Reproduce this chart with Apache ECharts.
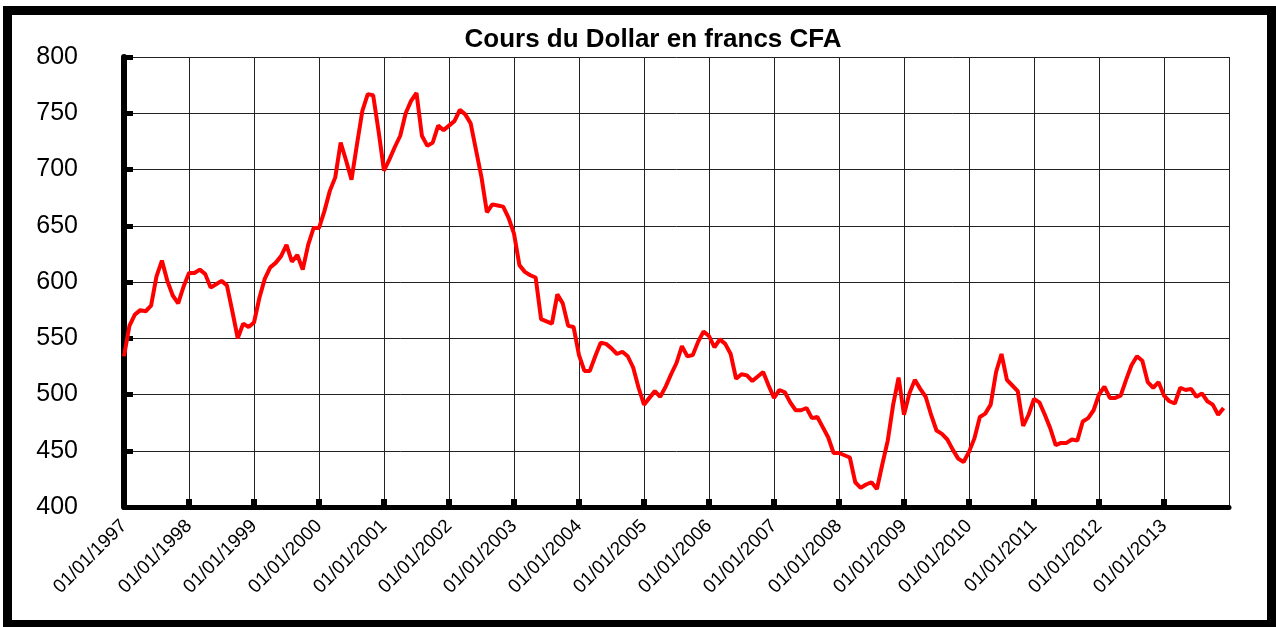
<!DOCTYPE html>
<html>
<head>
<meta charset="utf-8">
<title>Cours du Dollar en francs CFA</title>
<script src="https://cdn.jsdelivr.net/npm/echarts@6/dist/echarts.min.js"></script>
<style>
  html, body { margin: 0; padding: 0; background: #fff; }
  #main { width: 1276px; height: 627px; }
</style>
</head>
<body>
<div id="main"></div>
<script>
// cours mensuel du dollar (FCFA), janvier 1997 -> décembre 2013
var startYear = 1997;
var yearTicks = [1997, 2014];
var valeurs = [
  534, 561, 571, 575, 574, 579, 605, 619, 601, 588, 581, 596, // 1997
  608, 608, 611, 607, 595, 598, 601, 597, 574, 550, 563, 560, // 1998
  564, 586, 603, 613, 617, 623, 633, 618, 624, 611, 633, 648, // 1999
  648, 663, 681, 693, 724, 708, 691, 722, 752, 767, 766, 734, // 2000
  699, 709, 720, 730, 750, 761, 768, 730, 721, 724, 739, 735, // 2001
  739, 743, 753, 749, 741, 717, 693, 662, 669, 668, 667, 657, // 2002
  643, 615, 609, 606, 604, 567, 565, 563, 589, 581, 561, 560, // 2003
  535, 521, 521, 534, 546, 545, 541, 536, 538, 534, 524, 506, // 2004
  491, 497, 503, 498, 507, 518, 528, 543, 534, 535, 547, 556, // 2005
  552, 542, 549, 545, 536, 514, 518, 517, 512, 516, 520, 508, // 2006
  497, 504, 502, 493, 486, 486, 488, 479, 480, 471, 462, 448, // 2007
  448, 446, 444, 422, 417, 420, 422, 416, 438, 459, 491, 515, // 2008
  482, 501, 513, 505, 498, 482, 468, 465, 460, 451, 443, 440, // 2009
  449, 461, 480, 483, 491, 520, 536, 513, 508, 503, 472, 482, // 2010
  496, 493, 482, 470, 455, 457, 457, 460, 459, 476, 479, 486, // 2011
  500, 507, 497, 497, 499, 513, 526, 534, 530, 511, 506, 511, // 2012
  499, 494, 492, 506, 504, 505, 498, 501, 494, 491, 482, 488  // 2013
];

var points = valeurs.map(function (v, i) {
  return [startYear + i / 12, v];
});

var myChart = echarts.init(document.getElementById('main'));

var option = {
  animation: false,
  backgroundColor: '#fff',
  title: {
    text: 'Cours du Dollar en francs CFA',
    left: 648,
    textAlign: 'center',
    top: 22,
    textStyle: {
      fontFamily: 'Liberation Sans',
      fontSize: 26,
      fontWeight: 'bold',
      color: '#000'
    }
  },
  graphic: [
    {
      type: 'rect',
      shape: { x: 7.5, y: 10.5, width: 1264, height: 614 },
      style: { fill: 'none', stroke: '#000', lineWidth: 9 },
      silent: true
    }
  ],
  grid: {
    left: 124,
    right: 47,
    top: 57,
    bottom: 120
  },
  xAxis: {
    type: 'value',
    min: yearTicks[0],
    max: yearTicks[1],
    interval: 1,
    axisLine: { show: true, onZero: false, lineStyle: { color: '#000', width: 5 } },
    axisTick: { show: true, inside: true, length: 8, lineStyle: { color: '#000', width: 6 } },
    splitLine: { show: true, lineStyle: { color: '#222', width: 1 } },
    axisLabel: {
      rotate: 45,
      margin: 16,
      showMaxLabel: false,
      fontFamily: 'Liberation Sans',
      fontSize: 19,
      color: '#000',
      formatter: function (v) {
        return v < yearTicks[1] ? '01/01/' + v : '';
      }
    }
  },
  yAxis: {
    type: 'value',
    min: 400,
    max: 800,
    interval: 50,
    axisLine: { show: true, onZero: false, lineStyle: { color: '#000', width: 6 } },
    axisTick: { show: true, inside: true, length: 9, lineStyle: { color: '#000', width: 5 } },
    splitLine: { show: true, lineStyle: { color: '#222', width: 1 } },
    axisLabel: {
      margin: 46,
      fontFamily: 'Liberation Sans',
      fontSize: 25,
      color: '#000'
    }
  },
  series: [
    {
      type: 'line',
      data: points,
      showSymbol: false,
      symbol: 'none',
      lineStyle: { color: '#ff0000', width: 4 },
      z: 3
    }
  ]
};

myChart.setOption(option);
</script>
</body>
</html>
